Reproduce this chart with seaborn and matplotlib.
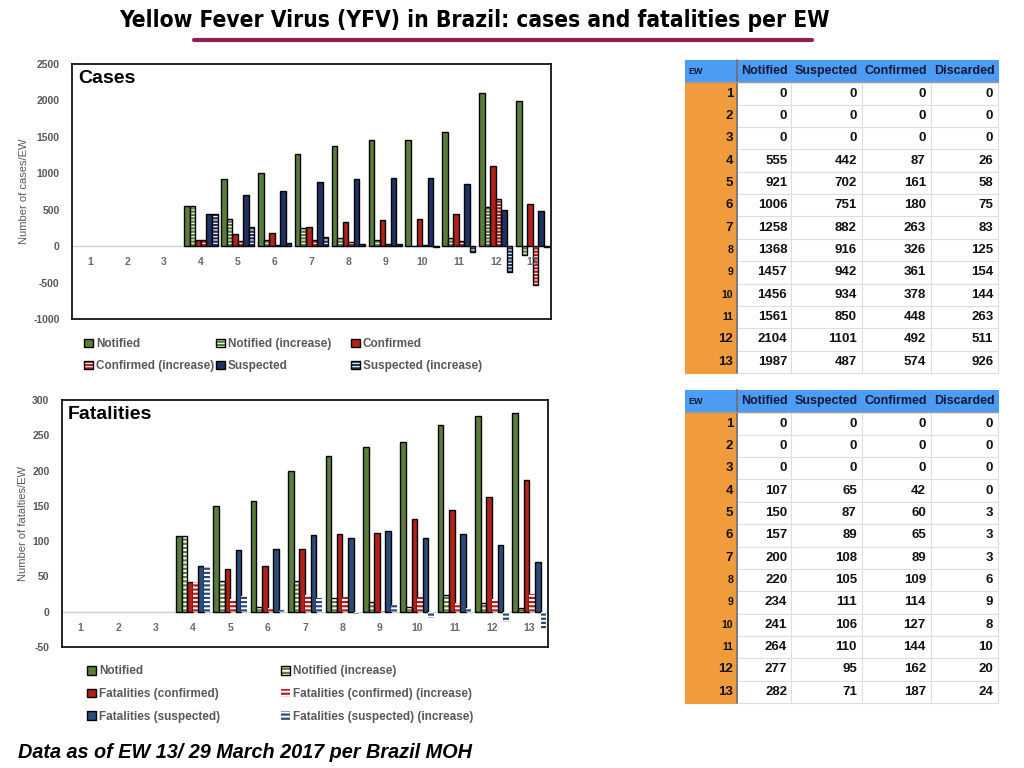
import matplotlib
matplotlib.use('Agg')
import matplotlib.pyplot as plt
from matplotlib.patches import Patch, Rectangle
from matplotlib.lines import Line2D
from matplotlib.legend_handler import HandlerTuple
import seaborn as sns
import pandas as pd
import numpy as np

sns.set_style('white')
plt.rcParams['font.family'] = ['Liberation Sans', 'DejaVu Sans']
plt.rcParams['text.color'] = 'black'
plt.rcParams['hatch.linewidth'] = 1.6


# Data
weeks = list(range(1, 14))

# cases chart
cases_notified = [0, 0, 0, 555, 921, 1006, 1258, 1368, 1457, 1456, 1561, 2104, 1987]
cases_notified_inc = [0, 0, 0, 555, 366, 85, 252, 110, 89, -1, 105, 543, -117]
cases_confirmed = [0, 0, 0, 87, 161, 180, 263, 326, 361, 378, 448, 1101, 574]
cases_confirmed_inc = [0, 0, 0, 87, 74, 19, 83, 63, 35, 17, 70, 653, -527]
cases_suspected = [0, 0, 0, 442, 702, 751, 882, 916, 942, 934, 850, 492, 487]
cases_suspected_inc = [0, 0, 0, 442, 260, 49, 131, 34, 26, -8, -84, -358, -5]

# fatalities chart
fat_notified = [0, 0, 0, 107, 150, 157, 200, 220, 234, 241, 264, 277, 282]
fat_notified_inc = [0, 0, 0, 107, 43, 7, 43, 20, 14, 7, 23, 13, 5]
fat_confirmed = [0, 0, 0, 42, 60, 65, 89, 110, 111, 132, 144, 162, 187]
fat_confirmed_inc = [0, 0, 0, 42, 18, 5, 24, 21, 1, 21, 12, 18, 25]
fat_suspected = [0, 0, 0, 65, 87, 89, 108, 105, 114, 105, 110, 95, 71]
fat_suspected_inc = [0, 0, 0, 65, 22, 2, 19, -3, 9, -9, 5, -15, -24]

# tables
table_header = ['EW', 'Notified', 'Suspected', 'Confirmed', 'Discarded']
tbl_cases_notified = [0, 0, 0, 555, 921, 1006, 1258, 1368, 1457, 1456, 1561, 2104, 1987]
tbl_cases_suspected = [0, 0, 0, 442, 702, 751, 882, 916, 942, 934, 850, 1101, 487]
tbl_cases_confirmed = [0, 0, 0, 87, 161, 180, 263, 326, 361, 378, 448, 492, 574]
tbl_cases_discarded = [0, 0, 0, 26, 58, 75, 83, 125, 154, 144, 263, 511, 926]
tbl_fat_notified = [0, 0, 0, 107, 150, 157, 200, 220, 234, 241, 264, 277, 282]
tbl_fat_suspected = [0, 0, 0, 65, 87, 89, 108, 105, 111, 106, 110, 95, 71]
tbl_fat_confirmed = [0, 0, 0, 42, 60, 65, 89, 109, 114, 127, 144, 162, 187]
tbl_fat_discarded = [0, 0, 0, 0, 3, 3, 3, 6, 9, 8, 10, 20, 24]

GREEN = '#5b7d3a'
RED = '#b3211a'
NAVY = '#1f3262'
BLUE = '#2b4c7b'
GREY = '#595959'


fig = plt.figure(figsize=(10.24, 7.68), dpi=100)


def bar_panel(rect, series, names, colors, outlined, hatch, yticks, ylabel, title):
    ax = fig.add_axes(rect)
    df = pd.DataFrame({
        'EW': np.tile(weeks, len(series)),
        'value': np.concatenate(series),
        'series': np.repeat(names, len(weeks)),
    })
    sns.barplot(data=df, x='EW', y='value', hue='series', hue_order=names,
                palette=dict(zip(names, colors)), width=0.9, saturation=1,
                edgecolor='black', linewidth=1, errorbar=None, legend=False, ax=ax)
    for k, cont in enumerate(ax.containers):
        inc = names[k].endswith('(increase)')
        for p in cont.patches:
            if p.get_height() == 0:
                p.set_visible(False)
                continue
            if inc:
                p.set_facecolor('white')
                p.set_edgecolor(colors[k])
                p.set_hatch(hatch)
                p.set_linewidth(0)
                if outlined[k]:
                    ax.add_patch(Rectangle(p.get_xy(), p.get_width(), p.get_height(),
                                           fill=False, edgecolor='black', linewidth=1, zorder=1.1))
    ax.axhline(0, color='#d0d0d0', lw=1, zorder=0.5)
    ax.set_xlim(-0.5, len(weeks) - 0.5)
    ax.set_ylim(yticks[0], yticks[-1])
    ax.set_yticks(yticks)
    ax.set_yticklabels([str(t) for t in yticks])
    ax.tick_params(axis='y', length=0, pad=9, labelsize=7.5, labelcolor=GREY)
    for t in ax.get_yticklabels():
        t.set_fontweight('bold')
    ax.tick_params(axis='x', bottom=False, labelbottom=False)
    ax.set_xlabel('')
    ax.set_ylabel(ylabel, fontsize=8, color=GREY, labelpad=3)
    for s in ax.spines.values():
        s.set_visible(True)
        s.set_color('black')
        s.set_linewidth(1.2)
    for i, w in enumerate(weeks):
        ax.annotate(str(w), (i, 0), xytext=(0, -16), textcoords='offset pixels',
                    ha='center', va='center', fontsize=7.5, fontweight='bold', color='#6a6a6a')
    ax.annotate(title, (0, 1), xycoords='axes fraction', xytext=(6, -6),
                textcoords='offset pixels', ha='left', va='top',
                fontsize=14, fontweight='bold', color='black')
    return ax


def handle(color, inc, outlined, hatch):
    if not inc:
        return Patch(facecolor=color, edgecolor='black', linewidth=1)
    h = Patch(facecolor='white', edgecolor=color, hatch=hatch, linewidth=0)
    if outlined:
        return (h, Patch(fill=False, edgecolor='black', linewidth=1))
    return h


def legend_column(names, colors, outlined, hatch, x, y, spacing):
    hs = [handle(c, n.endswith('(increase)'), o, hatch) for n, c, o in zip(names, colors, outlined)]
    leg = fig.legend(hs, names, loc='center left', bbox_to_anchor=(x / 1024, 1 - y / 768),
                     frameon=False, borderpad=0, borderaxespad=0, handletextpad=0.25,
                     handlelength=0.75, handleheight=0.75, labelspacing=spacing, fontsize=8.5,
                     handler_map={tuple: HandlerTuple(ndivide=1, pad=0)})
    for t in leg.get_texts():
        t.set_color(GREY)
        t.set_fontweight('bold')


# Cases chart
case_names = ['Notified', 'Notified (increase)', 'Confirmed', 'Confirmed (increase)',
              'Suspected', 'Suspected (increase)']
case_colors = [GREEN, GREEN, RED, RED, NAVY, NAVY]
case_outl = [True] * 6
bar_panel([72 / 1024, 1 - 319 / 768, 479 / 1024, 255 / 768],
          [cases_notified, cases_notified_inc, cases_confirmed, cases_confirmed_inc,
           cases_suspected, cases_suspected_inc],
          case_names, case_colors, case_outl, '-----',
          list(range(-1000, 2501, 500)), 'Number of cases/EW', 'Cases')
for col, xpos in zip([[0, 3], [1, 4], [2, 5]], [84, 216, 351]):
    legend_column([case_names[i] for i in col], [case_colors[i] for i in col],
                  [case_outl[i] for i in col], '-----', xpos, 355, 0.85)

# Fatalities chart
fat_names = ['Notified', 'Notified (increase)', 'Fatalities (confirmed)',
             'Fatalities (confirmed) (increase)', 'Fatalities (suspected)',
             'Fatalities (suspected) (increase)']
fat_colors = [GREEN, GREEN, RED, RED, BLUE, BLUE]
fat_outl = [True, True, True, False, True, False]
bar_panel([62 / 1024, 1 - 647 / 768, 486 / 1024, 247 / 768],
          [fat_notified, fat_notified_inc, fat_confirmed, fat_confirmed_inc,
           fat_suspected, fat_suspected_inc],
          fat_names, fat_colors, fat_outl, '----',
          list(range(-50, 301, 50)), 'Number of fatalties/EW', 'Fatalities')
for col, xpos in zip([[0, 2, 4], [1, 3, 5]], [87, 281]):
    legend_column([fat_names[i] for i in col], [fat_colors[i] for i in col],
                  [fat_outl[i] for i in col], '----', xpos, 694, 0.9)


# Tables
col_w = np.array([52, 54, 70.7, 69, 67.3])


def draw_table(top, cols):
    tax = fig.add_axes([685 / 1024, 1 - (top + 313) / 768, 313 / 1024, 313 / 768])
    tax.axis('off')
    body = [[str(w)] + [str(c[i]) for c in cols] for i, w in enumerate(weeks)]
    tbl = tax.table(cellText=body, colLabels=table_header, colLoc='center', cellLoc='right',
                    colWidths=list(col_w / col_w.sum()), bbox=[0, 0, 1, 1])
    tbl.auto_set_font_size(False)
    for (r, c), cell in tbl.get_celld().items():
        txt = cell.get_text()
        txt.set_fontweight('bold')
        txt.set_fontsize(9.5)
        cell.PAD = 0.07
        cell.set_linewidth(0.8)
        if r == 0:
            cell.set_facecolor('#4c9cf4')
            cell.set_edgecolor('#4c9cf4')
            txt.set_color('#15183a')
            txt.set_fontsize(9)
            if c == 0:
                cell._loc = 'left'
                txt.set_ha('left')
                txt.set_fontsize(6.5)
        elif c == 0:
            cell.set_facecolor('#f09b3c')
            cell.set_edgecolor('#f09b3c')
            txt.set_color('#111111')
            if weeks[r - 1] in (8, 9, 10, 11):
                txt.set_fontsize(7.5)
        else:
            cell.set_facecolor('white')
            cell.set_edgecolor('#dedede')
            txt.set_color('#111111')
    xs = col_w[0] / col_w.sum()
    tax.plot([xs, xs], [0, 1], color='#6e6e6e', lw=1.2, transform=tax.transAxes, clip_on=False)
    tax.plot([0, 1], [13 / 14, 13 / 14], color='#9a9a9a', lw=1, transform=tax.transAxes, clip_on=False)


draw_table(60, [tbl_cases_notified, tbl_cases_suspected, tbl_cases_confirmed, tbl_cases_discarded])
draw_table(390, [tbl_fat_notified, tbl_fat_suspected, tbl_fat_confirmed, tbl_fat_discarded])


# Title, underline, footer
fig.text(474 / 1024, 1 - 20 / 768, 'Yellow Fever Virus (YFV) in Brazil: cases and fatalities per EW',
         ha='center', va='center', fontsize=16.3, fontweight='bold', fontstretch='condensed',
         family=['Liberation Sans Narrow', 'DejaVu Sans'], color='black')
fig.add_artist(Line2D([194 / 1024, 812 / 1024], [1 - 40 / 768, 1 - 40 / 768],
                      color='#8a2352', lw=3, transform=fig.transFigure))
fig.text(18 / 1024, 1 - 752 / 768, 'Data as of EW 13/ 29 March 2017 per Brazil MOH',
         ha='left', va='center', fontsize=14.3, fontweight='bold', fontstyle='italic',
         color='black')

fig.savefig('out.png', dpi=100)
